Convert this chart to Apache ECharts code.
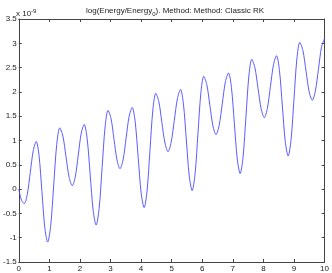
<!DOCTYPE html>
<html><head><meta charset="utf-8">
<script src="https://cdn.jsdelivr.net/npm/echarts@6/dist/echarts.min.js"></script>
<style>html,body{margin:0;padding:0;background:#fff}#c{width:332px;height:273px}</style>
</head><body><div id="c"></div>
<script>
// time values (x)
const times = [0,0.09,0.18,
 0.2775,0.375,0.4725,0.57,
 0.664,0.7575,0.851,0.945,
 1.044,1.1425,1.241,1.34,
 1.4425,1.545,1.6475,1.75,
 1.8475,1.945,2.0425,2.14,
 2.2375,2.335,2.4325,2.53,
 2.6275,2.725,2.8225,2.92,
 3.0175,3.115,3.2125,3.31,
 3.41,3.51,3.61,3.71,
 3.8075,3.905,4.0025,4.10,
 4.195,4.29,4.385,4.48,
 4.58,4.68,4.78,4.88,
 4.9825,5.085,5.1875,5.29,
 5.385,5.48,5.575,5.67,
 5.765,5.86,5.955,6.05,
 6.15,6.25,6.35,6.45,
 6.5525,6.655,6.7575,6.86,
 6.955,7.05,7.145,7.24,
 7.335,7.43,7.525,7.62,
 7.7225,7.825,7.9275,8.03,
 8.13,8.23,8.33,8.43,
 8.525,8.62,8.715,8.81,
 8.905,9.0,9.095,9.19,
 9.2925,9.395,9.4975,9.60,
 9.70,9.80,9.90,10.0];
// log energy ratio values in units of 1e-9
const values = [0,-0.23,-0.30,
 -0.11,0.34,0.79,0.98,
 0.68,-0.055,-0.79,-1.09,
 -0.75,0.085,0.92,1.26,
 1.09,0.665,0.24,0.07,
 0.25,0.70,1.15,1.33,
 1.03,0.295,-0.44,-0.74,
 -0.40,0.44,1.28,1.62,
 1.45,1.02,0.60,0.42,
 0.60,1.05,1.50,1.68,
 1.38,0.65,-0.08,-0.38,
 -0.04,0.795,1.63,1.97,
 1.80,1.37,0.95,0.77,
 0.96,1.41,1.86,2.05,
 1.75,1.01,0.27,-0.03,
 0.31,1.145,1.98,2.32,
 2.15,1.72,1.30,1.12,
 1.31,1.755,2.21,2.39,
 2.09,1.355,0.62,0.32,
 0.66,1.495,2.33,2.67,
 2.50,2.07,1.65,1.47,
 1.66,2.11,2.56,2.745,
 2.44,1.71,0.98,0.68,
 1.02,1.85,2.68,3.02,
 2.85,2.425,2.00,1.83,
 2.02,2.465,2.92,3.10];
const xTicks = [0,1,2,3,4,5,6,7,8,9,10];
const yTicks = [-1.5,-1,-0.5,0,0.5,1,1.5,2,2.5,3,3.5];

const chart = echarts.init(document.getElementById('c'));
const font = 'Liberation Sans, Arial, sans-serif';
const axisLine = {show:true, onZero:false, lineStyle:{color:'#444', width:1}};
const tick = {show:true, inside:true, length:3, lineStyle:{color:'#444', width:1}};
chart.setOption({
  animation:false,
  title:{
    text:'{a|log(Energy/Energy}{s|0}{a|). Method: Method: Classic RK}',
    left:170, top:0, textAlign:'center',
    textStyle:{fontWeight:'normal', rich:{
      a:{fontFamily:font, fontSize:8, fontWeight:'normal', color:'#222'},
      s:{fontFamily:font, fontSize:6, fontWeight:'normal', color:'#222', verticalAlign:'bottom', padding:[6,0,0,0]}
    }}
  },
  graphic:[{type:'text', left:16, top:8, style:{
    text:'{a|x 10}{s|-9}', font:'8px '+font,
    rich:{a:{fontFamily:font,fontSize:8,fill:'#222'}, s:{fontFamily:font,fontSize:6,fill:'#222',padding:[0,0,5,0]}}
  }}],
  grid:{left:15, right:7, top:19, bottom:9},
  xAxis:[
    {type:'value', min:xTicks[0], max:xTicks[xTicks.length-1], interval:1, axisLine, axisTick:tick, splitLine:{show:false},
     axisLabel:{fontFamily:font, fontSize:8, color:'#222', margin:3}},
    {type:'value', position:'top', min:xTicks[0], max:xTicks[xTicks.length-1], interval:1, axisLine, axisTick:tick, splitLine:{show:false}, axisLabel:{show:false}}
  ],
  yAxis:[
    {type:'value', min:yTicks[0], max:yTicks[yTicks.length-1], interval:0.5, axisLine, axisTick:tick, splitLine:{show:false},
     axisLabel:{fontFamily:font, fontSize:8, color:'#222', margin:2}},
    {type:'value', position:'right', min:yTicks[0], max:yTicks[yTicks.length-1], interval:0.5, axisLine, axisTick:tick, splitLine:{show:false}, axisLabel:{show:false}}
  ],
  series:[{type:'line', xAxisIndex:0, yAxisIndex:0, showSymbol:false, smooth:0.3,
    data: times.map((t,i)=>[t, values[i]]),
    lineStyle:{color:'#4a4aff', width:0.9}}]
});
</script></body></html>
